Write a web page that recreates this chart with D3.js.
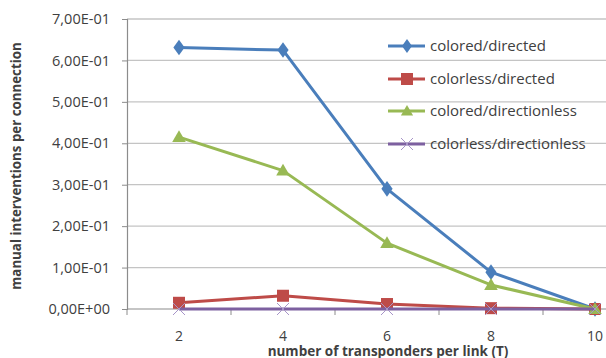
<!DOCTYPE html>
<html>
<head>
<meta charset="utf-8">
<script src="https://cdn.jsdelivr.net/npm/d3@7/dist/d3.min.js"></script>
<style>
  html, body { margin: 0; padding: 0; background: #fff; }
  svg { display: block; }
  text { font-family: "Open Sans", "Noto Sans", sans-serif; fill: #404040; }
</style>
</head>
<body>
<svg id="chart" width="606" height="358"></svg>
<script>
// Transponders per link (T)
const categories = [2, 4, 6, 8, 10];
const yTicks = [0, 0.1, 0.2, 0.3, 0.4, 0.5, 0.6, 0.7];

// Manual interventions per connection
const coloredDirected = [0.631, 0.625, 0.290, 0.089, 0.000];
const colorlessDirected = [0.015, 0.032, 0.012, 0.002, 0.000];
const coloredDirectionless = [0.415, 0.334, 0.159, 0.058, 0.000];
const colorlessDirectionless = [0.000, 0.000, 0.000, 0.000, 0.000];

const seriesNames = ["colored/directed", "colorless/directed", "colored/directionless", "colorless/directionless"];
const seriesValues = [coloredDirected, colorlessDirected, coloredDirectionless, colorlessDirectionless];
const seriesColors = ["#4a7ebb", "#be4b48", "#98b954", "#7d60a0"];
const seriesMarkers = ["diamond", "square", "triangle", "cross"];

const svg = d3.select("#chart");
const plot = { left: 127, top: 19, bottom: 309, right: 647 };

const x = d3.scalePoint().domain(categories).range([plot.left, plot.right]).padding(0.5);
const band = d3.scaleBand().domain(categories).range([plot.left, plot.right]);
const y = d3.scaleLinear().domain([0, 0.7]).range([plot.bottom, plot.top]);

const tickText = v => v === 0 ? "0,00E+00" : (v * 10).toFixed(2).replace(".", ",") + "E-01";

// horizontal gridlines
svg.append("g")
  .selectAll("line")
  .data(yTicks.filter(v => v > 0))
  .join("line")
  .attr("x1", plot.left).attr("x2", 606)
  .attr("y1", d => y(d)).attr("y2", d => y(d))
  .attr("stroke", "#c4c4c4").attr("stroke-width", 1.3);

// y axis
const yAxis = svg.append("g")
  .attr("transform", `translate(${plot.left},0)`)
  .call(d3.axisLeft(y).tickValues(yTicks).tickFormat(tickText).tickSize(5).tickPadding(12));
yAxis.select(".domain").attr("stroke", "#8c8c8c").attr("stroke-width", 1.2);
yAxis.selectAll(".tick line").attr("stroke", "#8c8c8c");
yAxis.selectAll(".tick text").attr("font-size", 14.5).attr("fill", "#404040")
  .style("font-family", "'Open Sans', sans-serif");

// x axis: category boundaries get tick marks, labels sit at category centres
const xg = svg.append("g").attr("transform", `translate(0,${plot.bottom})`);
xg.append("line").attr("x1", plot.left).attr("x2", 606).attr("y1", 0).attr("y2", 0)
  .attr("stroke", "#8c8c8c").attr("stroke-width", 1.2);
xg.selectAll("line.tk")
  .data(categories)
  .join("line").attr("class", "tk")
  .attr("x1", d => band(d)).attr("x2", d => band(d))
  .attr("y1", 0).attr("y2", 6)
  .attr("stroke", "#8c8c8c");
xg.selectAll("text")
  .data(categories)
  .join("text")
  .attr("x", d => x(d)).attr("y", 32)
  .attr("text-anchor", "middle")
  .attr("font-size", 14)
  .text(d => d);

// axis titles
svg.append("text")
  .attr("transform", `translate(21,${(plot.top + plot.bottom) / 2 + 2}) rotate(-90)`)
  .attr("text-anchor", "middle")
  .attr("font-size", 13.3).attr("font-weight", "bold").attr("fill", "#000")
  .text("manual interventions per connection");
svg.append("text")
  .attr("x", 388).attr("y", 356)
  .attr("text-anchor", "middle")
  .attr("font-size", 13.5).attr("font-weight", "bold").attr("fill", "#000")
  .text("number of transponders per link (T)");

// marker drawing
function drawMarker(g, type, color, cx, cy, scale = 1) {
  if (type === "diamond") {
    g.append("path").attr("d", d3.symbol(d3.symbolDiamond, 70 * scale)())
      .attr("transform", `translate(${cx},${cy}) scale(1.25,1)`).attr("fill", color);
  } else if (type === "square") {
    g.append("rect").attr("x", cx - 6).attr("y", cy - 6).attr("width", 12).attr("height", 12)
      .attr("fill", color);
  } else if (type === "triangle") {
    g.append("path").attr("d", d3.symbol(d3.symbolTriangle, 80 * scale)())
      .attr("transform", `translate(${cx},${cy + 1})`).attr("fill", color);
  } else {
    g.append("path").attr("d", `M${cx - 6},${cy - 6}L${cx + 6},${cy + 6}M${cx - 6},${cy + 6}L${cx + 6},${cy - 6}`)
      .attr("stroke", "#a795c8").attr("stroke-width", 1).attr("fill", "none");
  }
}

// series
const line = d3.line().x((d, i) => x(categories[i])).y(d => y(d));
seriesValues.forEach((vals, si) => {
  const g = svg.append("g");
  g.append("path").datum(vals).attr("d", line)
    .attr("fill", "none").attr("stroke", seriesColors[si]).attr("stroke-width", 3)
    .attr("stroke-linejoin", "round");
  vals.forEach((v, i) => drawMarker(g, seriesMarkers[si], seriesColors[si], x(categories[i]), y(v)));
});

// legend
const legendY = [46, 79, 111, 144];
seriesNames.forEach((name, si) => {
  const g = svg.append("g");
  g.append("line").attr("x1", 388).attr("x2", 425).attr("y1", legendY[si]).attr("y2", legendY[si])
    .attr("stroke", seriesColors[si]).attr("stroke-width", 3);
  drawMarker(g, seriesMarkers[si], seriesColors[si], 407, legendY[si], 0.8);
  g.append("text").attr("x", 430).attr("y", legendY[si] + 5)
    .attr("font-size", 15).text(name);
});
</script>
</body>
</html>
